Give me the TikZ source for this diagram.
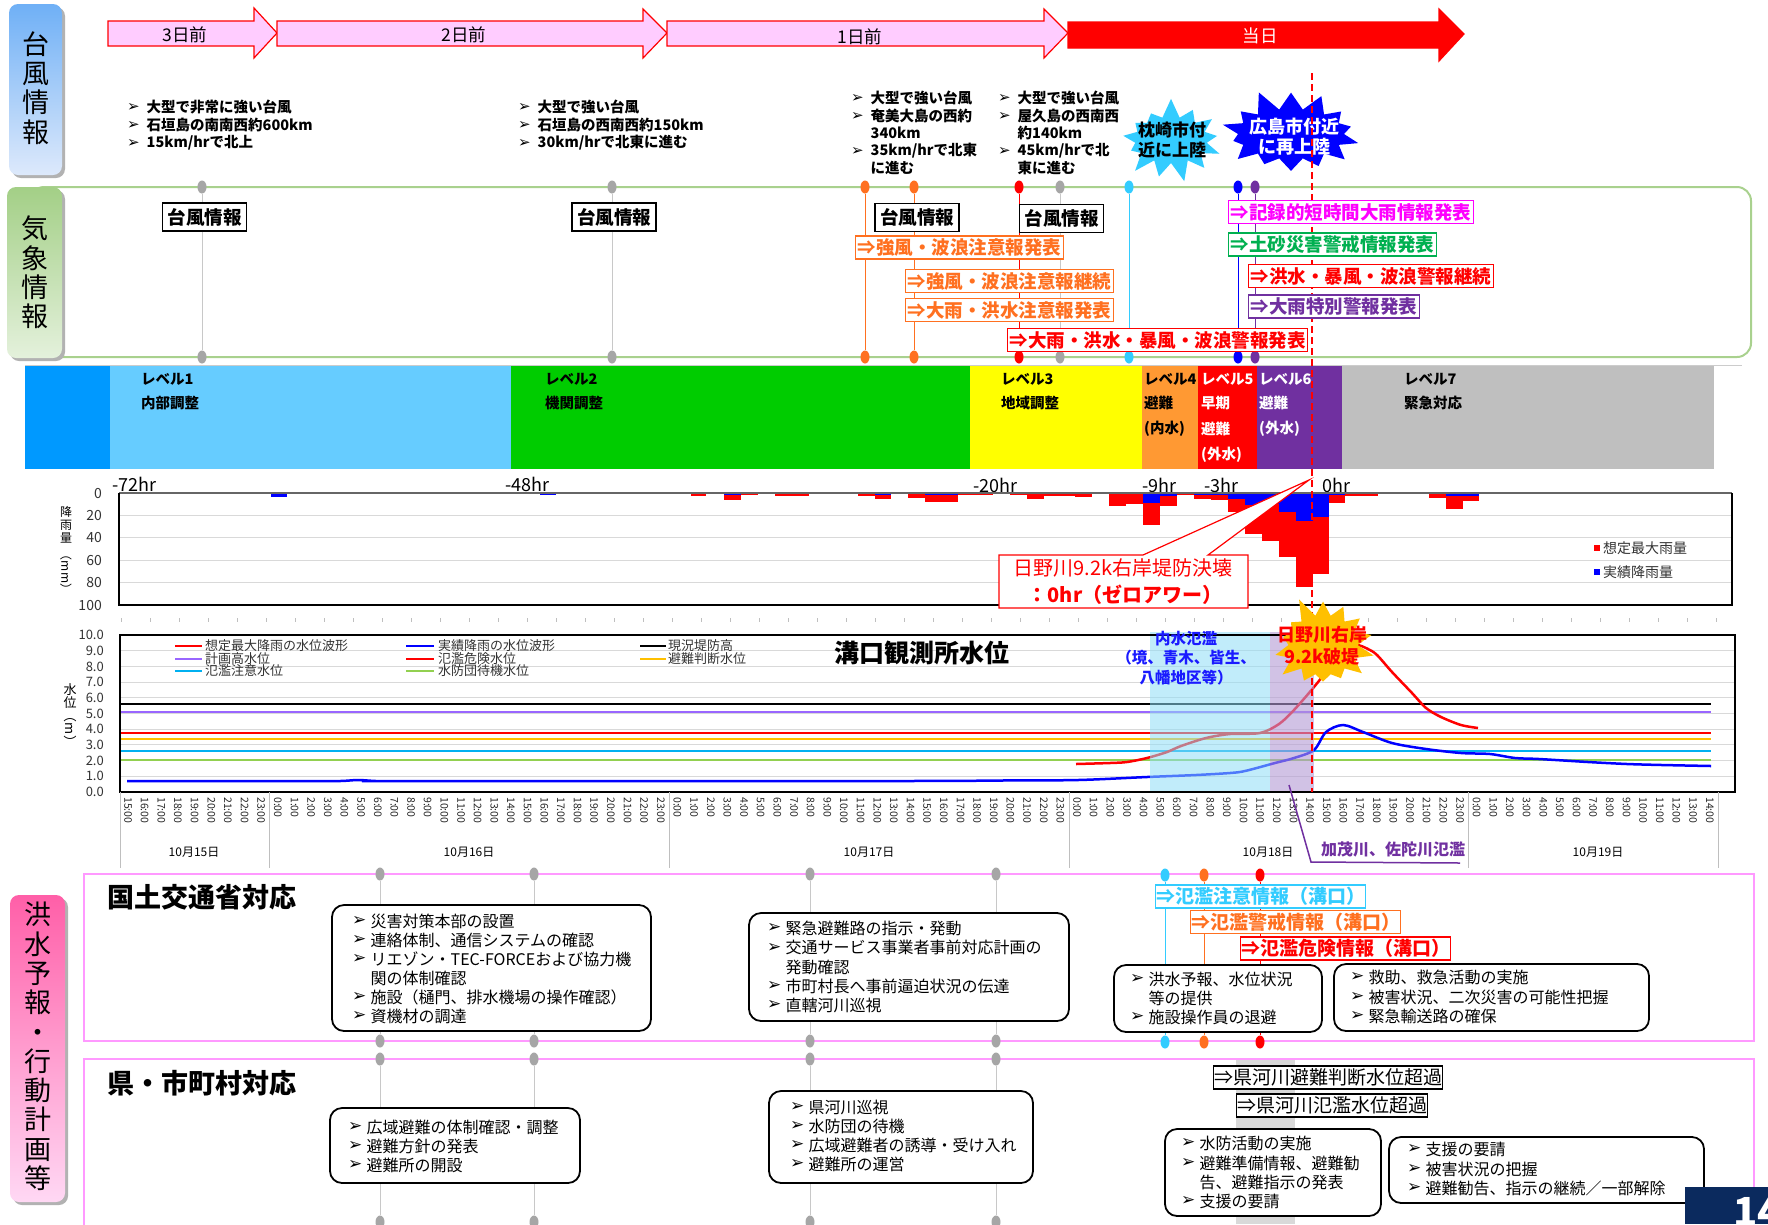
\documentclass[tikz,border=0pt]{standalone}
\usepackage{fontspec}
\setmainfont{Noto Sans CJK JP}
\newfontfamily\dejavu{DejaVu Sans}
\usetikzlibrary{shapes.symbols,shapes.geometric,fit}
\definecolor{aPink}{HTML}{FFCCFF}
\definecolor{cOr}{HTML}{FF7020}
\definecolor{cRed}{HTML}{FF0000}
\definecolor{cMag}{HTML}{FF00FF}
\definecolor{cGrn}{HTML}{00B050}
\definecolor{cPur}{HTML}{7030A0}
\definecolor{cLb}{HTML}{33CCFF}
\definecolor{cBl}{HTML}{0000FF}
\definecolor{cGray}{HTML}{A6A6A6}
\definecolor{cGrayL}{HTML}{C8C8C8}
\definecolor{wFrame}{HTML}{A9D18E}
\definecolor{pFrame}{HTML}{FF99FF}
\definecolor{lvA}{HTML}{0099FF}
\definecolor{lvB}{HTML}{66CCFF}
\definecolor{lvC}{HTML}{00CC00}
\definecolor{lvD}{HTML}{FFFF00}
\definecolor{lvE}{HTML}{FF9933}
\definecolor{lvF}{HTML}{FF0000}
\definecolor{lvG}{HTML}{7030A0}
\definecolor{lvH}{HTML}{BFBFBF}
\definecolor{wPur}{HTML}{9966FF}
\definecolor{wYel}{HTML}{FFC000}
\definecolor{wLb}{HTML}{00B0F0}
\definecolor{wGrn}{HTML}{92D050}
\definecolor{bandB}{HTML}{8FDDF7}
\definecolor{bandP}{HTML}{B39AD4}
\definecolor{navy}{HTML}{0B2A5E}
\definecolor{txtBl}{HTML}{1A1AFF}
\definecolor{sideBa}{HTML}{6FB0F6}
\definecolor{sideBb}{HTML}{DDE9FB}
\definecolor{sideGa}{HTML}{A3CF86}
\definecolor{sideGb}{HTML}{E4F1DC}
\definecolor{sidePa}{HTML}{FF5FA8}
\definecolor{sidePb}{HTML}{FFD8F4}
\newcommand\fs[1]{\fontsize{#1}{#1}\selectfont}
% list item with bullet: name, bullet x, y, text
\newcommand\Li[4]{\node[bu] (#1b) at (#2,#3) {➢}; \node[it] (#1) at ({#2+18.5},#3) {#4};}
\newcommand\Lc[4]{\node[it] (#1) at ({#2+18.5},#3) {#4};}
\newcommand\Ti[4]{\node[tib] (#1b) at (#2,#3) {➢}; \node[ti] (#1) at ({#2+19.5},#3) {#4};}
\newcommand\Tc[4]{\node[ti] (#1) at ({#2+19.5},#3) {#4};}
\begin{document}
\begin{tikzpicture}[x=1pt,y=-1pt,
  every node/.style={inner sep=0pt},
  arrtxt/.style={font=\fs{17.5}},
  ti/.style={anchor=west, font=\bfseries\fs{14.5}},
  tib/.style={anchor=west, font=\dejavu\bfseries\fs{15}},
  it/.style={anchor=west, font=\fs{16}},
  bu/.style={anchor=west, font=\dejavu\bfseries\fs{17}},
  wdot/.style={ellipse, minimum width=9pt, minimum height=13pt, fill=#1},
  tbox/.style={draw=black, line width=1.5pt, fill=white, font=\bfseries\fs{18.5}, minimum height=28pt, inner xsep=5pt},
  wbox/.style={draw=#1, text=#1, line width=1.2pt, fill=white, font=\bfseries\fs{18.5}, minimum height=23pt, inner xsep=2pt, anchor=west},
  fbox/.style={draw=#1, text=#1, line width=1.2pt, fill=white, font=\bfseries\fs{19}, minimum height=23pt, inner xsep=0.5pt, anchor=west},
  kbox/.style={draw=black, line width=1.2pt, fill=white, font=\fs{19}, minimum height=23pt, inner xsep=0.5pt, anchor=west},
  rbox/.style={draw=black, line width=1.8pt, rounded corners=12pt, fill=white, inner sep=0pt},
  lvt/.style={anchor=west, font=\bfseries\fs{14.5}},
  hrt/.style={anchor=west, font=\fs{18}},
  axl/.style={anchor=east, font=\fs{13}, text=black!80},
  lgt/.style={anchor=west, font=\fs{13}, text=black!80},
  xlab/.style={anchor=west, rotate=-90, font=\fs{10.5}, text=black!85},
  sidebox/.style={rounded corners=9pt, inner sep=0pt},
  sidetxt/.style={align=center, font=\fontsize{27}{29.3}\selectfont},
  pline/.style={line width=1pt},
]
\useasboundingbox (0,0) rectangle (1768,1224);
\fill[white] (0,0) rectangle (1768,1224);

% ---------------- top day arrows
\path[fill=aPink, draw=cRed, line width=1.2pt] (108,21) -- (254,21) -- (254,8) -- (277,33) -- (254,58) -- (254,46) -- (108,46) -- cycle;
\path[fill=aPink, draw=cRed, line width=1.2pt] (277,21) -- (643,21) -- (643,9) -- (667,33) -- (643,58) -- (643,46) -- (277,46) -- cycle;
\path[fill=aPink, draw=cRed, line width=1.2pt] (667,21) -- (1044,21) -- (1044,9) -- (1068,33) -- (1044,58) -- (1044,46) -- (667,46) -- cycle;
\path[fill=cRed, draw=cRed, line width=1.2pt] (1068,22) -- (1439,22) -- (1439,9) -- (1464,34) -- (1439,61) -- (1439,48) -- (1068,48) -- cycle;
\node[arrtxt] (d3) at (185,35) {3日前};
\node[arrtxt] (d2) at (464,35) {2日前};
\node[arrtxt] (d1) at (860,37) {1日前};
\node[arrtxt, text=white] (d0) at (1260,36) {当日};

% ---------------- typhoon info text
\Ti{ta1}{127}{107}{大型で非常に強い台風}
\Ti{ta2}{127}{125}{石垣島の南南西約600km}
\Ti{ta3}{127}{143}{15km/hrで北上}
\Ti{tb1}{518}{107}{大型で強い台風}
\Ti{tb2}{518}{125}{石垣島の西南西約150km}
\Ti{tb3}{518}{143}{30km/hrで北東に進む}
\Ti{tc1}{851}{98}{大型で強い台風}
\Ti{tc2}{851}{116}{奄美大島の西約}
\Tc{tc3}{851}{133}{340km}
\Ti{tc4}{851}{151}{35km/hrで北東}
\Tc{tc5}{851}{168}{に進む}
\Ti{td1}{998}{98}{大型で強い台風}
\Ti{td2}{998}{116}{屋久島の西南西}
\Tc{td3}{998}{133}{約140km}
\Ti{td4}{998}{151}{45km/hrで北}
\Tc{td5}{998}{168}{東に進む}

% ---------------- stars (landfall)
\node[starburst, starburst points=13, starburst point height=20pt, random starburst=7, fill=cLb, minimum width=112pt, minimum height=86pt] (st1) at (1171,140) {};
\node[font=\bfseries\fontsize{17}{20}\selectfont, align=center] (st1t) at (1172,140) {枕崎市付\\近に上陸};
\node[starburst, starburst points=14, starburst point height=22pt, random starburst=11, fill=cBl, minimum width=150pt, minimum height=94pt] (st2) at (1291,134) {};
\node[font=\bfseries\fontsize{18}{20}\selectfont, text=white, align=center] (st2t) at (1294,137) {広島市付近\\に再上陸};

% ---------------- weather frame
\draw[wFrame, line width=2pt, rounded corners=14pt] (30,187) rectangle (1751,357);
\draw[black!20] (25,365) -- (1742,365);

% ---------------- level band
\fill[lvA] (25,366) rectangle (110,469);
\fill[lvB] (110,366) rectangle (511,469);
\fill[lvC] (511,366) rectangle (970,469);
\fill[lvD] (970,366) rectangle (1142,469);
\fill[lvE] (1142,366) rectangle (1198,469);
\fill[lvF] (1198,366) rectangle (1257,469);
\fill[lvG] (1257,366) rectangle (1342,469);
\fill[lvH] (1342,366) rectangle (1714,469);
\node[lvt] (l1a) at (141,379) {レベル1};
\node[lvt] (l1b) at (141,403) {内部調整};
\node[lvt] (l2a) at (545,379) {レベル2};
\node[lvt] (l2b) at (545,403) {機関調整};
\node[lvt] (l3a) at (1001,379) {レベル3};
\node[lvt] (l3b) at (1001,403) {地域調整};
\node[lvt] (l4a) at (1144,379) {レベル4};
\node[lvt] (l4b) at (1144,403) {避難};
\node[lvt] (l4c) at (1144,429) {(内水)};
\node[lvt, text=white] (l5a) at (1201,379) {レベル5};
\node[lvt, text=white] (l5b) at (1201,403) {早期};
\node[lvt, text=white] (l5c) at (1201,429) {避難};
\node[lvt, text=white] (l5d) at (1201,455) {(外水)};
\node[lvt, text=white] (l6a) at (1259,379) {レベル6};
\node[lvt, text=white] (l6b) at (1259,403) {避難};
\node[lvt, text=white] (l6c) at (1259,429) {(外水)};
\node[lvt] (l7a) at (1404,379) {レベル7};
\node[lvt] (l7b) at (1404,403) {緊急対応};

% ---------------- weather timeline lines with dots
\foreach \i/\x/\c/\lc in {1/202/cGray/cGrayL, 2/612/cGray/cGrayL, 3/865/cOr/cOr, 4/914/cOr/cOr, 5/1019/cRed/cRed, 6/1060/cGray/cGrayL, 7/1129/cLb/cLb, 8/1238/cBl/cBl, 9/1255/cPur/cPur}{
  \node[wdot=\c] (wt\i) at (\x,187) {};
  \node[wdot=\c] (wd\i) at (\x,357) {};
  \draw[\lc, pline] (wt\i) -- (wd\i);
}

% ---------------- hour labels
\node[hrt] (h72) at (112,484) {-72hr};
\node[hrt] (h48) at (505,484) {-48hr};
\node[hrt] (h20) at (973,485) {-20hr};
\node[hrt] (h9) at (1142,485) {-9hr};
\node[hrt] (h3) at (1204,485) {-3hr};
\node[hrt] (h0) at (1322,485) {0hr};

% ---------------- rain chart
\foreach \m in {20,40,60,80} \draw[black!15, line width=1pt] (119,{493+1.12*\m}) -- (1732,{493+1.12*\m});
\foreach \a/\b/\r/\u in {271/287/0/4, 540/556/0/2, 691/706/3/0, 724/741/6/2, 741/758/2/0, 775/809/3/0, 809/858/1/0, 858/875/3/1, 875/891/5/2, 891/908/1/0, 908/925/4.5/0, 925/958/8/2, 958/993/2/0, 993/1010/1/0, 1010/1027/2/0, 1027/1044/5/0, 1044/1075/2.5/1, 1075/1092/4/0, 1092/1109/1/0, 1109/1126/12/1, 1126/1143/10/1, 1143/1160/29/9, 1160/1177/12/3, 1177/1194/2/0, 1194/1211/5/2, 1211/1228/6/2, 1228/1245/17/5, 1245/1262/37/11, 1262/1279/43/10, 1279/1296/57/17, 1296/1313/84/25, 1313/1329/72/21, 1329/1345/9/2, 1345/1378/2.7/0, 1378/1429/1/0, 1429/1446/4.5/1, 1446/1463/14/3, 1463/1479/7/3}{
  \fill[cRed] (\a,493) rectangle (\b,{493+1.12*\r});
  \fill[cBl] (\a,493) rectangle (\b,{493+1.12*\u});
}
\draw[black!60, line width=1.5pt] (119,493) -- (1732,493);
\draw[black, line width=1.5pt] (119,493) -- (119,605) -- (1732,605) -- (1732,493);
\foreach \m in {0,20,40,60,80,100} \node[axl, font=\fs{14}] (ra\m) at (102,{493+1.12*\m}) {\m};
\node[font=\fs{12}] (ry1) at (66,512) {降};
\node[font=\fs{12}] (ry2) at (66,525) {雨};
\node[font=\fs{12}] (ry3) at (66,538) {量};
\node[font=\fs{12}, rotate=-90] (ry4) at (66,572) {（mm）};
\fill[cRed] (1594,545) rectangle (1600,551);
\node[lgt, font=\fs{14}] (rl1) at (1603,548) {想定最大雨量};
\fill[cBl] (1594,569) rectangle (1600,575);
\node[lgt, font=\fs{14}] (rl2) at (1603,572) {実績降雨量};
\foreach \i in {0,...,55} \draw[black!25] ({121+29*\i},618) -- ({121+29*\i},622);

% ---------------- water level chart
\foreach \m in {1,...,9} \draw[black!15, line width=1pt] (120,{792-15.7*\m}) -- (1735,{792-15.7*\m});
\foreach \m/\c in {5.6/black, 5.1/wPur, 3.75/cRed, 3.4/wYel, 2.6/wLb, 2.05/wGrn}
  \draw[\c, line width=2pt] (120,{792-15.7*\m}) -- (1711,{792-15.7*\m});
\draw[cBl, line width=2.5pt] plot[smooth, tension=0.5] coordinates {(127,781) (300,781) (340,781) (358,780) (376,781) (400,781) (900,781) (1000,780.5) (1078,780) (1147,777) (1196,775) (1230,773) (1245,771) (1275,763) (1294,758) (1314,750) (1326,732) (1343,725) (1363,732) (1392,743) (1426,749) (1461,753) (1490,754) (1515,758) (1539,759) (1588,762) (1627,764) (1662,765) (1711,766)};
\draw[cRed, line width=2.5pt] plot[smooth, tension=0.5] coordinates {(1076,764) (1110,763) (1127,762) (1147,758) (1167,752) (1181,746) (1206,738) (1230,734) (1260,733) (1279,724) (1294,710) (1314,687) (1330,667) (1343,652) (1356,645) (1368,649) (1377,655) (1392,672) (1412,693) (1426,708) (1441,717) (1461,725) (1478,728)};
\fill[bandB, opacity=0.55] (1150,632) rectangle (1270,792);
\fill[bandP, opacity=0.6] (1270,632) rectangle (1314,792);
\draw[black, line width=2pt] (120,635) rectangle (1735,792);
\foreach \m in {0,...,10} \node[axl] (wa\m) at (104,{792-15.7*\m}) {\m.0};
\node[font=\fs{13}] (wy1) at (70,690) {水};
\node[font=\fs{13}] (wy2) at (70,703) {位};
\node[font=\fs{13}, rotate=-90] (wy3) at (70,729) {（m）};
% legend
\draw[cRed, line width=2.5pt] (175,646) -- (202,646);
\node[lgt] (lg1) at (205,646) {想定最大降雨の水位波形};
\draw[wPur, line width=2.5pt] (175,659) -- (202,659);
\node[lgt] (lg2) at (205,659) {計画高水位};
\draw[wLb, line width=2.5pt] (175,671) -- (202,671);
\node[lgt] (lg3) at (205,671) {氾濫注意水位};
\draw[cBl, line width=2.5pt] (406,646) -- (434,646);
\node[lgt] (lg4) at (438,646) {実績降雨の水位波形};
\draw[cRed, line width=2.5pt] (406,659) -- (434,659);
\node[lgt] (lg5) at (438,659) {氾濫危険水位};
\draw[wGrn, line width=2.5pt] (406,671) -- (434,671);
\node[lgt] (lg6) at (438,671) {水防団待機水位};
\draw[black, line width=2.5pt] (640,646) -- (666,646);
\node[lgt] (lg7) at (668,646) {現況堤防高};
\draw[wYel, line width=2.5pt] (640,659) -- (666,659);
\node[lgt] (lg8) at (668,659) {避難判断水位};
\node[anchor=west, font=\bfseries\fs{25}] (wtitle) at (834,653) {溝口観測所水位};
% x axis labels
\foreach \h in {0,...,95}{
  \pgfmathtruncatemacro\hh{mod(15+\h,24)}
  \node[xlab] (xl\h) at ({128+16.65*\h},797) {\hh:00};
}
\foreach \x in {120,269.5,669,1069,1468,1718} \draw[black!25] (\x,792) -- (\x,868);
\node[font=\fs{12}] (dt15) at (194,852) {10月15日};
\node[font=\fs{12}] (dt16) at (469,852) {10月16日};
\node[font=\fs{12}] (dt17) at (869,852) {10月17日};
\node[font=\fs{12}] (dt18) at (1268,852) {10月18日};
\node[font=\fs{12}] (dt19) at (1598,852) {10月19日};
% purple callout
\coordinate (pc1) at (1289,785);
\coordinate (pc2) at (1311,862);
\coordinate (pc3) at (1460,863);
\draw[cPur, line width=1.5pt] (pc1) -- (pc2) -- (pc3);
\node[anchor=west, text=cPur, font=\bfseries\fs{16}] (kamo) at (1321,849) {加茂川、佐陀川氾濫};
\node[text=txtBl, font=\bfseries\fontsize{15.5}{19.5}\selectfont, align=center] (nai) at (1186,658) {内水氾濫\\（境、青木、皆生、\\八幡地区等）};

% ---------------- zero-hour dashed line
\coordinate (zt) at (1312,73);
\coordinate (zb) at (1312,792);
\draw[cRed, line width=1.3pt, dash pattern=on 7pt off 4pt] (zt) -- (zb);

% ---------------- weather boxes
\node[tbox] (tf1) at (204.5,217) {台風情報};
\node[tbox] (tf2) at (614,217) {台風情報};
\node[tbox] (tf3) at (917,217.5) {台風情報};
\node[tbox] (tf4) at (1061.5,218.5) {台風情報};
\node[wbox=cOr] (wx1) at (855,247.5) {⇒強風・波浪注意報発表};
\node[wbox=cOr] (wx2) at (905,281) {⇒強風・波浪注意報継続};
\node[wbox=cOr] (wx3) at (905,310) {⇒大雨・洪水注意報発表};
\node[wbox=cRed] (wx4) at (1007,340) {⇒大雨・洪水・暴風・波浪警報発表};
\node[wbox=cMag] (wx5) at (1228,212) {⇒記録的短時間大雨情報発表};
\node[wbox=cGrn] (wx6) at (1228,244.5) {⇒土砂災害警戒情報発表};
\node[wbox=cRed] (wx7) at (1248,276) {⇒洪水・暴風・波浪警報継続};
\node[wbox=cPur] (wx8) at (1248,306.5) {⇒大雨特別警報発表};

% ---------------- zero-hour callout
\path[draw=cRed, line width=1.2pt, fill=white] (999,555) -- (1143,555) -- (1309,480) -- (1208,555) -- (1248,555) -- (1248,608) -- (999,608) -- cycle;
\node[font=\fs{20}, text=cRed] (co1) at (1123,568) {日野川9.2k右岸堤防決壊};
\node[font=\bfseries\fs{20}, text=cRed] (co2) at (1125,595) {：0hr（ゼロアワー）};

% ---------------- levee breach star
\node[starburst, starburst points=14, starburst point height=22pt, random starburst=5, fill=wYel, minimum width=113pt, minimum height=104pt] (st3) at (1323,645) {};
\node[text=cRed, font=\bfseries\fontsize{18}{22}\selectfont, align=center] (st3t) at (1322,646) {日野川右岸\\9.2k破堤};

% ---------------- bottom frames
\draw[pFrame, line width=2pt] (84,874) rectangle (1754,1041);
\draw[pFrame, line width=2pt] (84,1059) rectangle (1754,1240);
\fill[black!15] (1236,1060) rectangle (1295,1224);
\foreach \i/\x in {1/380, 2/534, 3/810, 4/996}{
  \node[wdot=cGray] (ga\i) at (\x,874) {};
  \node[wdot=cGray] (gb\i) at (\x,1041) {};
  \draw[cGrayL, pline] (ga\i) -- (gb\i);
  \node[wdot=cGray] (gc\i) at (\x,1059) {};
  \node[wdot=cGray] (gd\i) at (\x,1222) {};
  \draw[cGrayL, pline] (gc\i) -- (gd\i);
}
\foreach \i/\x/\c in {1/1165/cLb, 2/1204/cOr, 3/1260/cRed}{
  \node[wdot=\c] (ca\i) at (\x,875) {};
  \node[wdot=\c] (cb\i) at (\x,1042) {};
  \draw[\c, pline] (ca\i) -- (cb\i);
}
\node[anchor=west, font=\bfseries\fs{27}] (hd1) at (107,897) {国土交通省対応};
\node[anchor=west, font=\bfseries\fs{27}] (hd2) at (107,1083) {県・市町村対応};

\node[rbox, fit={(332,905) (651,1031)}] (bxA) {};
\node[rbox, fit={(749,913) (1069,1021)}] (bxB) {};
\node[rbox, fit={(1114,965) (1322,1032)}] (bxC) {};
\node[rbox, fit={(1334,964) (1649,1031)}] (bxD) {};
\node[rbox, fit={(330,1108) (580,1183)}] (bxE) {};
\node[rbox, fit={(769,1091) (1033,1183)}] (bxF) {};
\node[rbox, fit={(1165,1129) (1381,1216)}] (bxG) {};
\node[rbox, fit={(1389,1137) (1704,1203)}] (bxH) {};

\Li{a1}{352}{921}{災害対策本部の設置}
\Li{a2}{352}{940}{連絡体制、通信システムの確認}
\Li{a3}{352}{959}{リエゾン・TEC-FORCEおよび協力機}
\Lc{a4}{352}{978}{関の体制確認}
\Li{a5}{352}{997}{施設（樋門、排水機場の操作確認）}
\Li{a6}{352}{1016}{資機材の調達}
\Li{b1}{767}{928}{緊急避難路の指示・発動}
\Li{b2}{767}{947.5}{交通サービス事業者事前対応計画の}
\Lc{b3}{767}{967}{発動確認}
\Li{b4}{767}{986}{市町村長へ事前逼迫状況の伝達}
\Li{b5}{767}{1005}{直轄河川巡視}
\Li{c1}{1130}{979}{洪水予報、水位状況}
\Lc{c2}{1130}{998}{等の提供}
\Li{c3}{1130}{1017}{施設操作員の退避}
\Li{e1}{1350}{977}{救助、救急活動の実施}
\Li{e2}{1350}{997}{被害状況、二次災害の可能性把握}
\Li{e3}{1350}{1016}{緊急輸送路の確保}
\Li{f1}{348}{1127}{広域避難の体制確認・調整}
\Li{f2}{348}{1146}{避難方針の発表}
\Li{f3}{348}{1165}{避難所の開設}
\Li{g1}{790}{1107}{県河川巡視}
\Li{g2}{790}{1126}{水防団の待機}
\Li{g3}{790}{1145}{広域避難者の誘導・受け入れ}
\Li{g4}{790}{1164}{避難所の運営}
\Li{h1}{1181}{1143}{水防活動の実施}
\Li{h2}{1181}{1163}{避難準備情報、避難勧}
\Lc{h3}{1181}{1182}{告、避難指示の発表}
\Li{h4}{1181}{1201}{支援の要請}
\Li{k1}{1407}{1149}{支援の要請}
\Li{k2}{1407}{1169}{被害状況の把握}
\Li{k3}{1407}{1188}{避難勧告、指示の継続／一部解除}

\node[fbox=cLb] (fl1) at (1155,896.5) {⇒氾濫注意情報（溝口）};
\node[fbox=cOr] (fl2) at (1190,922) {⇒氾濫警戒情報（溝口）};
\node[fbox=cRed] (fl3) at (1240,948.5) {⇒氾濫危険情報（溝口）};
\node[kbox] (kl1) at (1213,1077.5) {⇒県河川避難判断水位超過};
\node[kbox] (kl2) at (1236,1105.5) {⇒県河川氾濫水位超過};

\fill[navy] (1685,1187) rectangle (1768,1224);
\node[anchor=west, font=\bfseries\fs{40}, text=white] (pg) at (1733,1212) {14};

% ---------------- side labels
\fill[black!30, rounded corners=9pt] (12,7) rectangle (65,178);
\node[sidebox, top color=sideBa, bottom color=sideBb, fit={(9,4) (62,175)}] (lab1) {};
\node[sidetxt] (lab1t) at (35.5,88) {台\\風\\情\\報};
\fill[black!30, rounded corners=9pt] (10,190) rectangle (65,361);
\node[sidebox, top color=sideGa, bottom color=sideGb, fit={(7,187) (62,358)}] (lab2) {};
\node[sidetxt] (lab2t) at (34.5,272.5) {気\\象\\情\\報};
\fill[black!30, rounded corners=9pt] (13,898) rectangle (68,1205);
\node[sidebox, top color=sidePa, bottom color=sidePb, fit={(10,895) (65,1202)}] (lab3) {};
\node[sidetxt] (lab3t) at (37.5,1046.5) {洪\\水\\予\\報\\・\\行\\動\\計\\画\\等};
\end{tikzpicture}
\end{document}
